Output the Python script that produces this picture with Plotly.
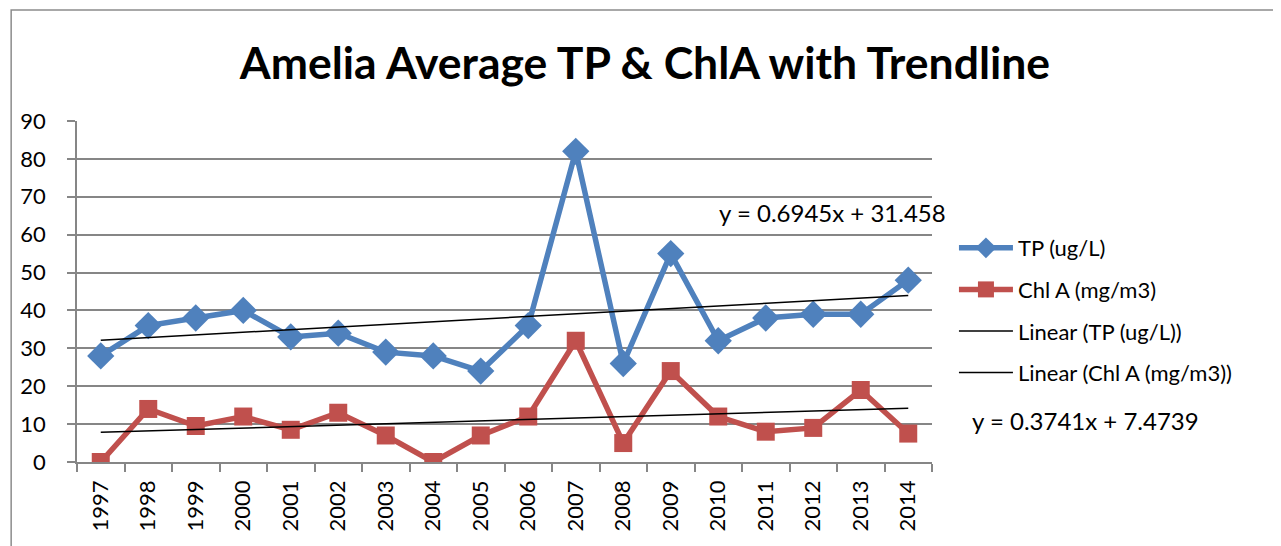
import plotly.graph_objects as go

years = ["1997", "1998", "1999", "2000", "2001", "2002", "2003", "2004", "2005",
         "2006", "2007", "2008", "2009", "2010", "2011", "2012", "2013", "2014"]
tp_values = [28, 36, 38, 40, 33, 34, 29, 28, 24, 36, 82, 26, 55, 32, 38, 39, 39, 48]
chla_values = [0, 14, 9.5, 12, 8.5, 13, 7, 0, 7, 12, 32, 5, 24, 12, 8, 9, 19, 7.5]
tp_trend_slope, tp_trend_intercept = 0.6945, 31.458
chla_trend_slope, chla_trend_intercept = 0.3741, 7.4739
title_text = "Amelia Average TP & ChlA with Trendline"
y_ticks = [0, 10, 20, 30, 40, 50, 60, 70, 80, 90]

idx = list(range(1, len(years) + 1))
tp_trend = [tp_trend_slope * i + tp_trend_intercept for i in idx]
chla_trend = [chla_trend_slope * i + chla_trend_intercept for i in idx]

BLUE = "#4F81BD"
RED = "#C0504D"
GRID = "#868686"
FONT = "Lato"

fig = go.Figure()
fig.add_trace(go.Scatter(x=years, y=tp_values, name="TP (ug/L)", mode="lines+markers",
                         line=dict(color=BLUE, width=5.5),
                         marker=dict(symbol="diamond", size=21, color=BLUE),
                         legendgroup="a"))
fig.add_trace(go.Scatter(x=years, y=chla_values, name="Chl A (mg/m3)", mode="lines+markers",
                         line=dict(color=RED, width=5.5),
                         marker=dict(symbol="square", size=18, color=RED),
                         legendgroup="b"))
fig.add_trace(go.Scatter(x=years, y=tp_trend, name="Linear (TP (ug/L))", mode="lines",
                         line=dict(color="black", width=1.5), legendgroup="c"))
fig.add_trace(go.Scatter(x=years, y=chla_trend, name="Linear (Chl A (mg/m3))", mode="lines",
                         line=dict(color="black", width=1.5), legendgroup="d"))

OFF = 8  # browser body margin
W, H = 1281, 546
# target plot area in screen pixels
X0, X1, Y0, Y1 = 75, 932, 121, 462
L, T = X0 - OFF, Y0 - OFF
R = W - (X1 - OFF)
B = H - (Y1 - OFF)
pw, ph = X1 - X0, Y1 - Y0

def px(xs):
    return (xs - X0) / pw

def py(ys):
    return (Y1 - ys) / ph

fig.update_layout(
    width=W, height=H,
    margin=dict(l=L, r=R, t=T, b=B),
    paper_bgcolor="white", plot_bgcolor="white",
    font=dict(family=FONT, size=20, color="black"),
    title=dict(text="<b>" + title_text + "</b>", xref="container", x=(645 - OFF) / W,
               xanchor="center", yref="container", y=1 - (63 - OFF) / H, yanchor="middle",
               font=dict(family=FONT, size=44.5, color="black")),
    xaxis=dict(type="category", tickson="boundaries", ticks="outside", ticklen=8,
               tickcolor=GRID, tickwidth=1.5, tickangle=-90, showgrid=False,
               showline=True, linecolor=GRID, linewidth=1.5,
               range=[-0.5, len(years) - 0.5], ticklabelstandoff=8,
               tickfont=dict(family=FONT, size=22)),
    yaxis=dict(range=[0, 90], tickvals=y_ticks, ticks="outside", ticklen=8,
               tickcolor=GRID, tickwidth=1.5, showgrid=True, gridcolor=GRID,
               gridwidth=1.5, showline=True, linecolor=GRID, linewidth=1.5,
               zeroline=False, ticklabelstandoff=17,
               tickfont=dict(family=FONT, size=22)),
    legend=dict(x=px(954), y=py(227), xanchor="left", yanchor="top",
                font=dict(family=FONT, size=22), tracegroupgap=10, itemwidth=54,
                traceorder="grouped", bgcolor="rgba(0,0,0,0)"),
    showlegend=True,
    annotations=[
        dict(text="y = 0.6945x + 31.458", x=px(832), y=py(212), xref="paper", yref="paper",
             showarrow=False, font=dict(family=FONT, size=24), xanchor="center", yanchor="middle"),
        dict(text="y = 0.3741x + 7.4739", x=px(1086), y=py(420), xref="paper", yref="paper",
             showarrow=False, font=dict(family=FONT, size=24), xanchor="center", yanchor="middle"),
    ],
    shapes=[
        dict(type="rect", xref="paper", yref="paper", x0=px(9), x1=px(1300), y0=py(570), y1=py(10),
             line=dict(color="#8C8C8C", width=1.5), fillcolor="rgba(0,0,0,0)", layer="below"),
    ],
)

fig.write_html("out.html")
